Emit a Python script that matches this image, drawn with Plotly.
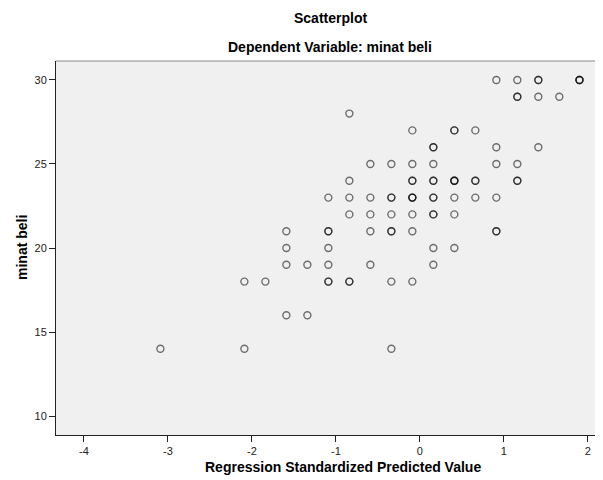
import plotly.graph_objects as go

# Regression standardized predicted values (x) and observed "minat beli" (y);
# counts = how many cases overlap at that spot (darker rings in the reference)
pred_x = [0.91, 1.16, 1.41, 1.90,
          1.16, 1.41, 1.66,
          -0.84,
          -0.09, 0.41, 0.66,
          0.16, 0.91, 1.41,
          -0.59, -0.34, -0.09, 0.16, 0.91, 1.16,
          -0.84, -0.09, 0.16, 0.41, 0.66, 1.16,
          -1.09, -0.84, -0.59, -0.34, -0.09, 0.16, 0.41, 0.66, 0.91,
          -0.84, -0.59, -0.34, -0.09, 0.16, 0.41,
          -1.59, -1.09, -0.59, -0.34, -0.09, 0.91,
          -1.59, -1.09, 0.16, 0.41,
          -1.59, -1.34, -1.09, -0.59, 0.16,
          -2.09, -1.84, -1.09, -0.84, -0.34, -0.09,
          -1.59, -1.34,
          -3.09, -2.09, -0.34]
minat_beli = [30, 30, 30, 30,
              29, 29, 29,
              28,
              27, 27, 27,
              26, 26, 26,
              25, 25, 25, 25, 25, 25,
              24, 24, 24, 24, 24, 24,
              23, 23, 23, 23, 23, 23, 23, 23, 23,
              22, 22, 22, 22, 22, 22,
              21, 21, 21, 21, 21, 21,
              20, 20, 20, 20,
              19, 19, 19, 19, 19,
              18, 18, 18, 18, 18, 18,
              16, 16,
              14, 14, 14]
case_counts = [1, 1, 2, 3,
               2, 1, 1,
               1,
               1, 2, 1,
               2, 1, 1,
               1, 1, 1, 1, 1, 1,
               1, 2, 2, 3, 2, 2,
               1, 1, 1, 2, 3, 2, 1, 1, 1,
               1, 1, 1, 1, 2, 1,
               1, 2, 1, 2, 1, 2,
               1, 1, 1, 1,
               1, 1, 1, 1, 1,
               1, 1, 2, 2, 1, 1,
               1, 1,
               1, 1, 1]

x_ticks = [-4, -3, -2, -1, 0, 1, 2]
y_ticks = [10, 15, 20, 25, 30]

xs, ys = [], []
for xv, yv, n in zip(pred_x, minat_beli, case_counts):
    xs += [xv] * n
    ys += [yv] * n

# page body has an 8px default margin: the figure starts at (8, 8) in the window
OFF = 8
W, H = 603 - OFF, 480 - OFF
L, R, T, B = 56 - OFF, 0, 61 - OFF, 45

fig = go.Figure()
fig.add_trace(go.Scatter(
    x=xs, y=ys, mode="markers",
    marker=dict(symbol="circle-open", size=7,
                color="rgba(0,0,0,0.55)", line=dict(width=1.4)),
    hoverinfo="x+y", showlegend=False))

tickfont = dict(family="Liberation Sans, Arial", size=11, color="#222222")
fig.update_layout(
    width=W, height=H,
    margin=dict(l=L, r=R, t=T, b=B, pad=0, autoexpand=False),
    paper_bgcolor="white", plot_bgcolor="#f0f0f0",
    xaxis=dict(range=[-4.333, 2.18], tickmode="array", tickvals=x_ticks,
               ticktext=[str(v) for v in x_ticks], automargin=False,
               showgrid=False, zeroline=False, showline=True,
               linecolor="#222222", linewidth=1, ticks="outside",
               ticklen=6, tickcolor="#222222", tickfont=tickfont),
    yaxis=dict(range=[8.87, 31.13], tickmode="array", tickvals=y_ticks,
               ticktext=[str(v) for v in y_ticks], automargin=False,
               showgrid=False, zeroline=False, showline=True,
               linecolor="#222222", linewidth=1, ticks="outside",
               ticklen=6, tickcolor="#222222", tickfont=tickfont),
)

pw = W - L - R
def px_to_paper_x(px):
    return (px - OFF - L) / pw

ph = H - T - B
def px_to_paper_y(py):
    return (H - B - (py - OFF)) / ph

# top frame line (gray)
fig.add_shape(type="line", xref="paper", yref="paper", x0=0, x1=1, y0=1, y1=1,
              line=dict(color="#8a8a8a", width=1))

titlefont = dict(family="Liberation Sans, Arial", size=14, color="black", weight="bold")
fig.add_annotation(text="Scatterplot", xref="paper", yref="paper",
                   x=px_to_paper_x(330), y=px_to_paper_y(18), showarrow=False,
                   xanchor="center", yanchor="middle", font=titlefont)
fig.add_annotation(text="Dependent Variable: minat beli", xref="paper", yref="paper",
                   x=px_to_paper_x(330), y=px_to_paper_y(47), showarrow=False,
                   xanchor="center", yanchor="middle", font=titlefont)
fig.add_annotation(text="Regression Standardized Predicted Value", xref="paper", yref="paper",
                   x=px_to_paper_x(343), y=px_to_paper_y(467), showarrow=False,
                   xanchor="center", yanchor="middle", font=titlefont)
fig.add_annotation(text="minat beli", xref="paper", yref="paper",
                   x=px_to_paper_x(22), y=px_to_paper_y(248), showarrow=False,
                   xanchor="center", yanchor="middle", textangle=-90, font=titlefont)

fig.write_html("out.html")
